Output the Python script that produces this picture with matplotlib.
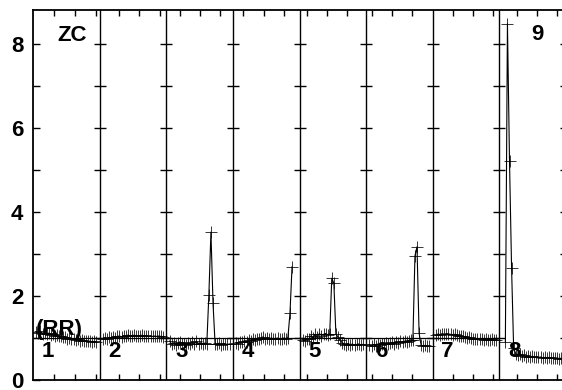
import numpy as np
import matplotlib
matplotlib.use("Agg")
import matplotlib.pyplot as plt

plt.rcParams['font.family'] = ['Liberation Sans', 'DejaVu Sans']
plt.rcParams['font.weight'] = 'bold'

# values per panel (one list per segment)
p1 = [1.14, 1.11, 1.15, 1.10, 1.12, 1.08, 1.11, 1.07, 1.09, 1.05, 1.07, 1.03, 1.04, 1.01, 1.02,
      0.98, 0.99, 0.96, 0.98, 0.94, 0.96, 0.93, 0.95, 0.92, 0.93, 0.91, 0.92, 0.90, 0.91, 0.90]
p2 = [0.98, 1.00, 0.97, 1.01, 0.99, 1.02, 1.00, 1.03, 1.04, 1.02, 1.05, 1.04, 1.06, 1.05, 1.04,
      1.06, 1.05, 1.04, 1.05, 1.06, 1.04, 1.05, 1.04, 1.05, 1.03, 1.04, 1.03, 1.04, 1.03, 1.02]
p3 = [0.92, 0.85, 0.88, 0.83, 0.87, 0.90, 0.84, 0.86, 0.82, 0.88, 0.85, 0.90, 0.86, 0.92, 0.84,
      0.88, 0.86, 0.87, 0.85, 2.02, 3.52, 1.83, 0.86, 0.84, 0.87, 0.83, 0.86, 0.85, 0.84, 0.85]
p4 = [0.88, 0.86, 0.90, 0.89, 0.92, 0.90, 0.94, 0.93, 0.96, 0.95, 0.98, 0.96, 0.99, 1.02, 0.97,
      1.00, 0.98, 0.99, 0.97, 0.98, 0.99, 0.97, 0.98, 0.99, 0.98, 1.00, 1.58, 2.69]
p5 = [0.95, 0.93, 0.97, 0.98, 1.05, 1.00, 1.08, 1.02, 1.10, 1.05, 1.08, 1.10, 1.07, 1.09, 2.42,
      2.30, 1.08, 1.02, 0.95, 0.88, 0.85, 0.82, 0.86, 0.83, 0.85, 0.82, 0.84, 0.85, 0.83, 0.84]
p6 = [0.82, 0.80, 0.84, 0.81, 0.85, 0.83, 0.86, 0.84, 0.88, 0.85, 0.87, 0.89, 0.86, 0.90, 0.88,
      0.91, 0.89, 0.92, 0.90, 0.93, 0.95, 0.94, 2.95, 3.17, 1.11, 0.82, 0.80, 0.82, 0.79, 0.80]
p7 = [1.06, 1.09, 1.07, 1.10, 1.08, 1.10, 1.09, 1.08, 1.07, 1.08, 1.06, 1.05, 1.04, 1.03, 1.02,
      1.00, 1.01, 0.99, 0.98, 0.97, 0.98, 0.96, 0.97, 0.95, 0.96, 0.95, 0.95, 0.96, 0.94, 0.95]
p8 = [0.90, 8.49, 5.21, 2.66, 0.75, 0.62, 0.58, 0.60, 0.56, 0.58, 0.55, 0.57, 0.54, 0.56, 0.53,
      0.55, 0.53, 0.54, 0.52, 0.53, 0.52, 0.53, 0.51, 0.52, 0.51, 0.52, 0.50, 0.51, 0.50]
panels = [p1, p2, p3, p4, p5, p6, p7, p8]
panel_labels = ['1', '2', '3', '4', '5', '6', '7', '8']
start_frac = [0.05, 0.05, 0.05, 0.05, 0.05, 0.05, 0.05, 0.09]
step = 0.9 / 29

xticks = [0.315, 0.63, 0.946, 1.29, 1.59, 1.91, 2.21, 2.51, 2.81, 3.15, 3.47, 3.77,
          4.11, 4.41, 4.71, 5.09, 5.39, 5.69, 6.31, 6.61, 6.91, 7.27, 7.57, 7.87]

fig = plt.figure(figsize=(5.62, 3.9), dpi=100)
ax = fig.add_axes([33 / 562, 10.4 / 390, 533 / 562, 369.6 / 390])
ax.set_xlim(0, 8)
ax.set_ylim(0, 8.82)

# panel dividers with two-sided ticks
for k in range(1, 9):
    ax.axvline(k, color='black', lw=1.0)
    ax.plot([k] * 8, range(1, 9), ls='none', marker='_', ms=9, mew=1.0,
            color='black', clip_on=False)

ax.hlines(1, 0, 7, color='black', lw=0.9)

for i, vals in enumerate(panels):
    x = i + start_frac[i] + step * np.arange(len(vals))
    ax.plot(x, vals, color='black', lw=0.8, marker='+', ms=9, mew=0.55)
    ax.text(i + 0.225, 0.66, panel_labels[i], fontsize=16, fontweight='bold',
            ha='center', va='center')

ax.text(0.585, 8.22, 'ZC', fontsize=16, fontweight='bold', ha='center', va='center')
ax.text(0.39, 1.2, '(RR)', fontsize=16, fontweight='bold', ha='center', va='center')
ax.text(7.57, 8.24, '9', fontsize=16, fontweight='bold', ha='center', va='center')

ax.set_yticks(range(0, 9))
ax.set_yticklabels(['0', '', '2', '', '4', '', '6', '', '8'])
ax.set_xticks(xticks)
ax.set_xticklabels([])
ax.tick_params(axis='y', direction='in', length=5, width=1, pad=7, labelsize=16)
ax.tick_params(axis='x', direction='in', length=4, width=1, top=True)
for lab in ax.get_yticklabels():
    lab.set_fontweight('bold')

ax.spines['right'].set_visible(False)
for s in ['left', 'bottom', 'top']:
    ax.spines[s].set_linewidth(1.3)

fig.savefig('out.png', dpi=100)
